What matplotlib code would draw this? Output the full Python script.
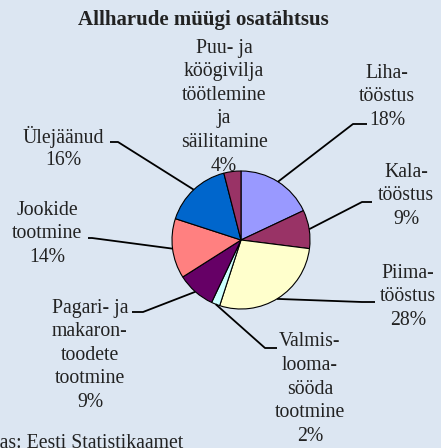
import matplotlib
matplotlib.use('Agg')
import matplotlib.pyplot as plt
import numpy as np

# data (shares in %)
categories = ['Liha-\ntööstus', 'Kala-\ntööstus', 'Piima-\ntööstus',
              'Valmis-\nlooma-\nsööda\ntootmine', 'Pagari- ja\nmakaron-\ntoodete\ntootmine',
              'Jookide\ntootmine', 'Ülejäänud',
              'Puu- ja\nköögivilja\ntöötlemine\nja\nsäilitamine']
shares = [18, 9, 28, 2, 9, 14, 16, 4]
colors = ['#9999ff', '#993366', '#ffffcc', '#ccffff', '#660066', '#ff8080', '#0066cc', '#993366']

W, H = 441, 448
cx, cy, R = 241, 240, 69   # pie centre / radius in image pixels

# label layout (image pixels): text centre x, first line y, leader end, elbow, attach angle override
label_x = [387, 406, 408, 310, 90, 47, 63, 224]
label_y = [73, 172, 273, 342, 308, 210, 137, 48]
leader_end = [(367, 124), (372, 202), (375, 302), (277, 348), (132, 312), (88, 238), (110, 142), None]
leader_elbow = [(353, 124), (362, 202), (362, 302), (265, 348), (143, 312), (92, 238), (118, 142), None]
attach_ang = [None, None, -58.6, None, None, None, None, None]
line_gap = 23.6

plt.rcParams['font.family'] = ['Liberation Serif', 'DejaVu Serif']
txtcol = '#222222'

fig = plt.figure(figsize=(W / 100, H / 100), dpi=100)
fig.patch.set_facecolor('#dce6f2')
ax = fig.add_axes([0, 0, 1, 1])
ax.set_facecolor('#dce6f2')

ax.pie(shares, colors=colors, startangle=90, counterclock=False,
       center=(cx, H - cy), radius=R,
       wedgeprops=dict(edgecolor='black', linewidth=0.8))
ax.set_xlim(0, W)
ax.set_ylim(0, H)
ax.axis('off')

# cumulative mid angles
cum = np.cumsum([0] + shares)
for i, cat in enumerate(categories):
    mid = 90 - 3.6 * (cum[i] + cum[i + 1]) / 2
    lines = cat.split('\n') + ['%d%%' % shares[i]]
    for k, ln in enumerate(lines):
        ax.text(label_x[i], H - (label_y[i] + k * line_gap), ln, ha='center', va='center',
                fontsize=14.2, color=txtcol)
    if leader_end[i] is not None:
        a = np.radians(attach_ang[i] if attach_ang[i] is not None else mid)
        px, py = cx + R * np.cos(a), cy - R * np.sin(a)
        xs = [px, leader_elbow[i][0], leader_end[i][0]]
        ys = [H - py, H - leader_elbow[i][1], H - leader_end[i][1]]
        ax.plot(xs, ys, color='black', lw=1.3, solid_capstyle='butt')

ax.text(203, H - 20, 'Allharude müügi osatähtsus', ha='center', va='center',
        fontsize=15, fontweight='bold', color=txtcol)
ax.text(183, H - 443, 'Allikas: Eesti Statistikaamet', ha='right', va='center',
        fontsize=14.2, color=txtcol)

fig.savefig('out.png', dpi=100, facecolor=fig.get_facecolor())
